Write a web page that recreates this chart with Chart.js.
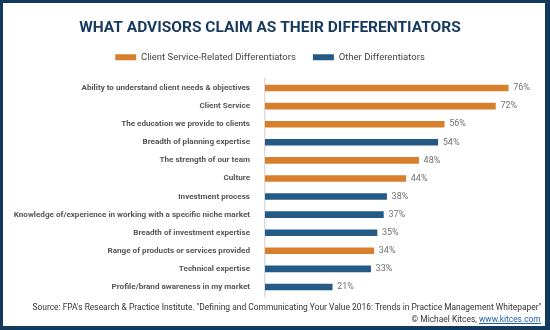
<!DOCTYPE html>
<html>
<head>
<meta charset="utf-8">
<script src="https://cdn.jsdelivr.net/npm/chart.js@4/dist/chart.umd.min.js"></script>
<style>
  body { margin: 0; background: #fff; }
  #wrap { position: relative; width: 550px; height: 330px; }
  #frame {
    position: absolute; left: 0; top: 0; width: 550px; height: 330px;
    box-sizing: border-box; border-style: solid; border-color: #123a5e;
    border-width: 3px 5px 4px 3px; pointer-events: none;
  }
  .foot {
    position: absolute; right: 9px; font-family: 'Roboto', sans-serif;
    font-size: 9.5px; color: #333; white-space: nowrap;
    transform: scaleX(0.886); transform-origin: right center;
  }
  .foot a { color: #1f5fa6; }
</style>
</head>
<body>
<div id="wrap">
  <canvas id="grafico" width="550" height="330"></canvas>
  <div class="foot" style="top: 301px;">Source: FPA's Research &amp; Practice Institute. "Defining and Communicating Your Value 2016: Trends in Practice Management Whitepaper"</div>
  <div class="foot" style="top: 312.5px;">© Michael Kitces, <a href="#">www.kitces.com</a></div>
  <div id="frame"></div>
</div>
<script>
const categorias = [
  'Ability to understand client needs & objectives',
  'Client Service',
  'The education we provide to clients',
  'Breadth of planning expertise',
  'The strength of our team',
  'Culture',
  'Investment process',
  'Knowledge of/experience in working with a specific niche market',
  'Breadth of investment expertise',
  'Range of products or services provided',
  'Technical expertise',
  'Profile/brand awareness in my market'
];
const valores = [76, 72, 56, 54, 48, 44, 38, 37, 35, 34, 33, 21];
// true = client service related, false = other
const ehClientService = [true, true, true, false, true, true, false, false, false, true, false, false];

const laranja = '#d87f2e';
const azul = '#245a86';
const fonte = "'Roboto', sans-serif";

const serieCliente = valores.map((v, i) => ehClientService[i] ? v : null);
const serieOutros = valores.map((v, i) => ehClientService[i] ? null : v);

const rotulosValores = {
  id: 'rotulosValores',
  afterDatasetsDraw(chart) {
    const ctx = chart.ctx;
    ctx.save();
    ctx.font = '9px ' + fonte;
    ctx.fillStyle = '#707070';
    ctx.textBaseline = 'middle';
    chart.data.datasets.forEach((ds, di) => {
      chart.getDatasetMeta(di).data.forEach((bar, i) => {
        if (ds.data[i] == null) return;
        ctx.fillText(ds.data[i] + '%', bar.x + 5, bar.y);
      });
    });
    ctx.restore();
  }
};

new Chart(document.getElementById('grafico').getContext('2d'), {
  type: 'bar',
  data: {
    labels: categorias,
    datasets: [
      { label: 'Client Service-Related Differentiators', data: serieCliente, backgroundColor: laranja, barThickness: 6, grouped: false },
      { label: 'Other Differentiators', data: serieOutros, backgroundColor: azul, barThickness: 6, grouped: false }
    ]
  },
  options: {
    indexAxis: 'y',
    responsive: false,
    animation: false,
    layout: { padding: { top: 0, right: 13, bottom: 34, left: 3 } },
    scales: {
      x: {
        // eixo escondido no topo, so para dar espaco abaixo da legenda
        position: 'top', min: 0, max: 85,
        grid: { display: false, drawTicks: true, tickLength: 7 },
        border: { display: false },
        ticks: { display: false }
      },
      y: {
        afterFit(scale) { scale.width = 262; },
        grid: { display: false },
        border: { color: '#dddddd', width: 1.5 },
        ticks: { color: '#555', padding: 7, font: { family: fonte, size: 8.1, weight: 'bold' } }
      }
    },
    plugins: {
      title: {
        display: true,
        text: 'WHAT ADVISORS CLAIM AS THEIR DIFFERENTIATORS',
        color: '#173a5e',
        font: { family: fonte, size: 15.5, weight: 'bold', lineHeight: 1 },
        padding: { top: 20, bottom: 0 }
      },
      legend: {
        labels: {
          boxWidth: 21, boxHeight: 6, padding: 17, color: '#444',
          font: { family: fonte, size: 9.5 }
        }
      },
      tooltip: { enabled: false }
    }
  },
  plugins: [rotulosValores]
});
</script>
</body>
</html>
